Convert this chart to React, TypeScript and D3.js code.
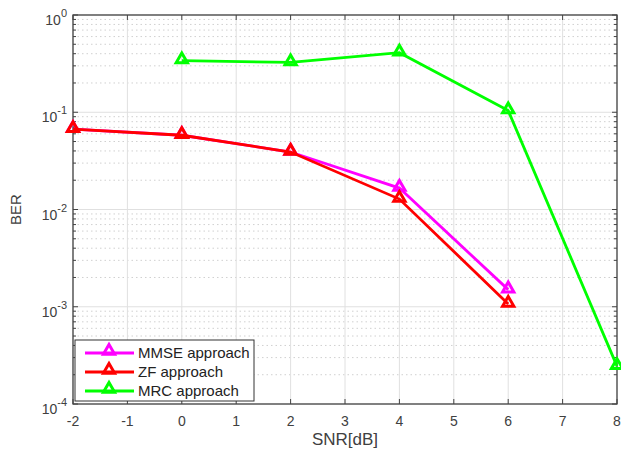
import React, { useEffect, useRef } from 'react';
import * as d3 from 'd3';

const snr = [-2, 0, 2, 4, 6];
const snrMrc = [0, 2, 4, 6, 8];
const mmse = [0.067, 0.058, 0.039, 0.0166, 0.0015];
const zf = [0.067, 0.058, 0.039, 0.0128, 0.00107];
const mrc = [0.34, 0.325, 0.41, 0.104, 0.000245];
const xTicks = [-2, -1, 0, 1, 2, 3, 4, 5, 6, 7, 8];
const yExps = [-4, -3, -2, -1, 0];

const series = [
  { name: 'MMSE approach', x: snr, y: mmse, color: '#ff00ff' },
  { name: 'ZF approach', x: snr, y: zf, color: '#ff0000' },
  { name: 'MRC approach', x: snrMrc, y: mrc, color: '#00ff00' },
];

const width = 621;
const height = 454;
const margin = { top: 15, right: 4, bottom: 50, left: 73 };

export default function App() {
  const ref = useRef<SVGSVGElement>(null);

  useEffect(() => {
    const svg = d3.select(ref.current);
    svg.selectAll('*').remove();
    const iw = width - margin.left - margin.right;
    const ih = height - margin.top - margin.bottom;

    const x = d3.scaleLinear().domain([-2, 8]).range([0, iw]);
    const y = d3.scaleLog().domain([1e-4, 1]).range([ih, 0]);

    const g = svg.append('g').attr('transform', `translate(${margin.left},${margin.top})`);

    // minor grid (dotted)
    const minors: number[] = [];
    yExps.slice(0, 4).forEach(e => {
      for (let k = 2; k <= 9; k++) minors.push(k * Math.pow(10, e));
    });
    g.selectAll('.minor').data(minors).join('line')
      .attr('x1', 0).attr('x2', iw)
      .attr('y1', d => y(d)).attr('y2', d => y(d))
      .attr('stroke', '#d0d0d0').attr('stroke-width', 1)
      .attr('stroke-dasharray', '1.5,3');

    // major grid
    g.selectAll('.xgrid').data(xTicks).join('line')
      .attr('x1', d => x(d)).attr('x2', d => x(d))
      .attr('y1', 0).attr('y2', ih)
      .attr('stroke', '#e0e0e0').attr('stroke-width', 1);
    g.selectAll('.ygrid').data(yExps).join('line')
      .attr('x1', 0).attr('x2', iw)
      .attr('y1', d => y(Math.pow(10, d))).attr('y2', d => y(Math.pow(10, d)))
      .attr('stroke', '#e0e0e0').attr('stroke-width', 1);

    // ticks inside, all sides
    const tk = g.append('g').attr('stroke', '#444').attr('stroke-width', 1);
    xTicks.forEach(t => {
      tk.append('line').attr('x1', x(t)).attr('x2', x(t)).attr('y1', ih).attr('y2', ih - 5);
      tk.append('line').attr('x1', x(t)).attr('x2', x(t)).attr('y1', 0).attr('y2', 5);
    });
    yExps.forEach(e => {
      const v = y(Math.pow(10, e));
      tk.append('line').attr('x1', 0).attr('x2', 5).attr('y1', v).attr('y2', v);
      tk.append('line').attr('x1', iw).attr('x2', iw - 5).attr('y1', v).attr('y2', v);
    });
    minors.forEach(m => {
      const v = y(m);
      tk.append('line').attr('x1', 0).attr('x2', 3).attr('y1', v).attr('y2', v);
      tk.append('line').attr('x1', iw).attr('x2', iw - 3).attr('y1', v).attr('y2', v);
    });

    g.append('rect').attr('width', iw).attr('height', ih)
      .attr('fill', 'none').attr('stroke', '#444').attr('stroke-width', 1.3);

    // tick labels
    const font = 'Liberation Sans, Arial, sans-serif';
    g.selectAll('.xl').data(xTicks).join('text')
      .attr('x', d => x(d)).attr('y', ih + 22)
      .attr('text-anchor', 'middle')
      .attr('font-family', font).attr('font-size', 14).attr('fill', '#404040')
      .text(d => d);
    yExps.forEach(e => {
      const t = g.append('text')
        .attr('x', -6).attr('y', y(Math.pow(10, e)) + 10)
        .attr('text-anchor', 'end')
        .attr('font-family', font).attr('font-size', 14).attr('fill', '#404040');
      t.append('tspan').text('10');
      t.append('tspan').attr('dy', -8).attr('font-size', 11).text(e);
    });

    // axis labels
    svg.append('text')
      .attr('x', margin.left + iw / 2).attr('y', 445)
      .attr('text-anchor', 'middle')
      .attr('font-family', font).attr('font-size', 17).attr('fill', '#404040')
      .text('SNR[dB]');
    svg.append('text')
      .attr('transform', `translate(21,${margin.top + ih / 2}) rotate(-90)`)
      .attr('text-anchor', 'middle')
      .attr('font-family', font).attr('font-size', 15).attr('fill', '#404040')
      .text('BER');

    const tri = d3.symbol().type(d3.symbolTriangle).size(55);
    const line = d3.line<[number, number]>().x(d => x(d[0])).y(d => y(d[1]));

    series.forEach(s => {
      const pts = s.x.map((v, i) => [v, s.y[i]] as [number, number]);
      g.append('path').datum(pts).attr('d', line)
        .attr('fill', 'none').attr('stroke', s.color).attr('stroke-width', 2.8);
      g.selectAll(null).data(pts).join('path')
        .attr('d', tri)
        .attr('transform', d => `translate(${x(d[0])},${y(d[1]) - 1})`)
        .attr('fill', 'none').attr('stroke', s.color).attr('stroke-width', 3);
    });

    // legend
    const lg = svg.append('g').attr('transform', 'translate(75,340)');
    lg.append('rect').attr('width', 179).attr('height', 61)
      .attr('fill', '#fff').attr('stroke', '#333').attr('stroke-width', 1);
    series.forEach((s, i) => {
      const yy = 13 + i * 19;
      lg.append('line').attr('x1', 10).attr('x2', 59).attr('y1', yy).attr('y2', yy)
        .attr('stroke', s.color).attr('stroke-width', 2.8);
      lg.append('path').attr('d', tri).attr('transform', `translate(34,${yy - 2})`)
        .attr('fill', 'none').attr('stroke', s.color).attr('stroke-width', 3);
      lg.append('text').attr('x', 63).attr('y', yy + 5)
        .attr('font-family', font).attr('font-size', 15).attr('fill', '#222')
        .text(s.name);
    });
  }, []);

  return <svg ref={ref} width={width} height={height} style={{ display: 'block', position: 'absolute', left: 0, top: 0 }} />;
}
